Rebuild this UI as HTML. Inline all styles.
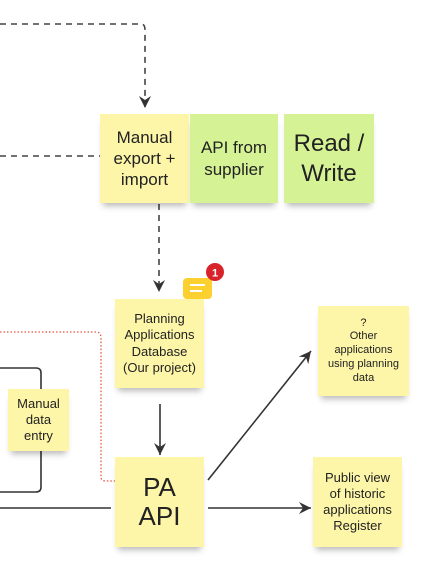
<!DOCTYPE html>
<html><head><style>
body{margin:0;width:430px;height:571px;background:#fff;overflow:hidden;position:relative;font-family:"Liberation Sans",sans-serif;}
.n{position:absolute;display:flex;align-items:center;justify-content:center;text-align:center;color:#222;box-shadow:0 6px 6px -3px rgba(0,0,0,.28);line-height:1.25;}
.y{background:#fdf6a9;}
.g{background:#d5f294;}
svg{position:absolute;left:0;top:0;}
</style></head><body>
<svg width="430" height="571">
<defs>
<marker id="a" markerWidth="14" markerHeight="14" refX="12" refY="6" orient="auto" markerUnits="userSpaceOnUse"><path d="M0,0 L12,6 L0,12 L4,6 Z" fill="#333"/></marker>
</defs>
<path d="M0,24 H141 Q145,24 145,30 V108" stroke="#444" stroke-width="1.6" fill="none" stroke-dasharray="6,5" marker-end="url(#a)"/>
<path d="M0,156 H100" stroke="#444" stroke-width="1.6" fill="none" stroke-dasharray="6,5"/>
<path d="M159,204 V292" stroke="#444" stroke-width="1.6" fill="none" stroke-dasharray="6,5" marker-end="url(#a)"/>
<path d="M0,332 H96 Q101,332 101,338 V477 Q101,481 106,481 H115" stroke="#e5533d" stroke-width="1.3" fill="none" stroke-dasharray="1.5,2"/>
<path d="M0,368 H36 Q41,368 41,373 V487 Q41,492 36,492 H0" stroke="#333" stroke-width="1.6" fill="none"/>
<path d="M160,404 V455" stroke="#333" stroke-width="1.6" fill="none" marker-end="url(#a)"/>
<path d="M0,508 H111" stroke="#333" stroke-width="1.6" fill="none"/>
<path d="M208,508 H311" stroke="#333" stroke-width="1.6" fill="none" marker-end="url(#a)"/>
<path d="M208,480 L311,351" stroke="#333" stroke-width="1.6" fill="none" marker-end="url(#a)"/>
<rect x="182" y="277" width="31" height="23" rx="5" fill="#fcd02f" stroke="#fff" stroke-width="2"/>
<path d="M193,300 L197,305 L201,300Z" fill="#fcd02f"/>
<path d="M190,285 H205 M190,291 H202" stroke="#fff" stroke-width="2"/>
<circle cx="215" cy="272" r="9" fill="#d8232a"/>
<text x="215" y="276.5" font-size="11" font-weight="bold" fill="#fff" text-anchor="middle" font-family="Liberation Sans">1</text>
</svg>
<div class="n y" style="left:100px;top:114px;width:89px;height:89px;font-size:17px;">Manual<br>export +<br>import</div>
<div class="n g" style="left:190px;top:114px;width:88px;height:89px;font-size:17px;">API from<br>supplier</div>
<div class="n g" style="left:284px;top:114px;width:90px;height:89px;font-size:24px;">Read /<br>Write</div>
<div class="n y" style="left:115px;top:299px;width:89px;height:89px;font-size:13px;">Planning<br>Applications<br>Database<br>(Our project)</div>
<div class="n y" style="left:318px;top:306px;width:91px;height:90px;font-size:11px;">?<br>Other<br>applications<br>using planning<br>data</div>
<div class="n y" style="left:8px;top:389px;width:61px;height:62px;font-size:13px;">Manual<br>data<br>entry</div>
<div class="n y" style="left:115px;top:457px;width:89px;height:90px;font-size:26px;line-height:1.1;">PA<br>API</div>
<div class="n y" style="left:313px;top:457px;width:89px;height:90px;font-size:13px;">Public view<br>of historic<br>applications<br>Register</div>
</body></html>
